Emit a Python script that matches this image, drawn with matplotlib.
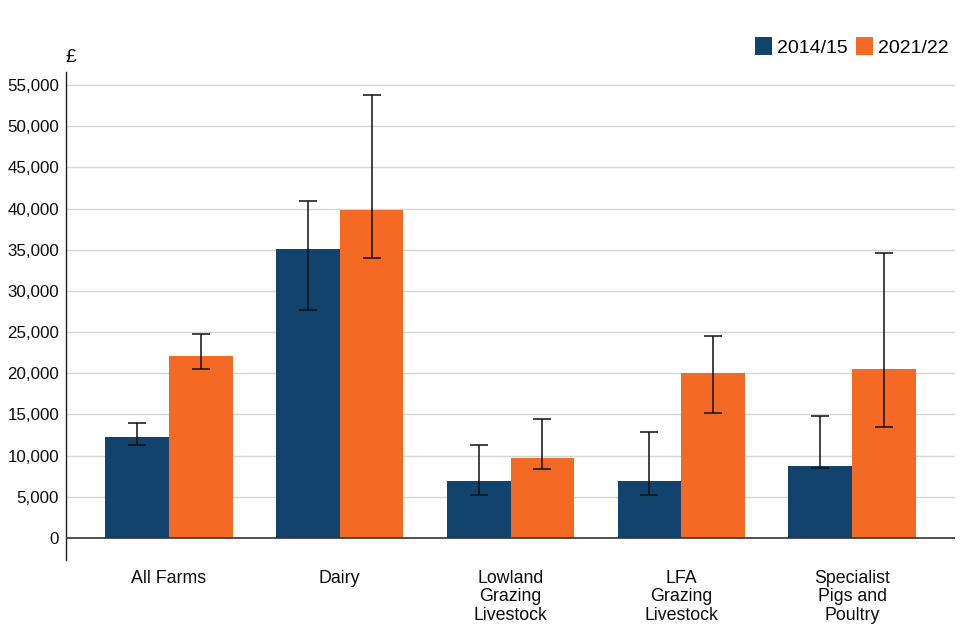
import matplotlib
matplotlib.use("Agg")
import matplotlib.pyplot as plt
import numpy as np
from matplotlib.patches import Patch

plt.rcParams['font.family'] = ['Liberation Sans', 'DejaVu Sans']

categories = ["All Farms", "Dairy", "Lowland\nGrazing\nLivestock", "LFA\nGrazing\nLivestock",
              "Specialist\nPigs and\nPoultry"]
series_names = ["2014/15", "2021/22"]
vals_2014 = [12300, 35100, 6950, 6950, 8770]
low_2014 = [11240, 27670, 5260, 5260, 8500]
high_2014 = [13990, 40900, 11320, 12900, 14760]
vals_2021 = [22120, 39840, 9750, 20060, 20550]
low_2021 = [20460, 33980, 8330, 15210, 13420]
high_2021 = [24710, 53800, 14480, 24470, 34620]
yticks = list(range(0, 55001, 5000))

colors = ["#12436D", "#F46A25"]

fig = plt.figure(figsize=(9.6, 6.4), dpi=100)
ax = fig.add_axes([66/960, 80/640, 889/960, 488/640])

x = np.arange(len(categories))
w = 0.374
err_kw = dict(ecolor="#111111", elinewidth=1.3, capsize=6.3, capthick=1.3, alpha=0.85)
for i, (vals, lo, hi) in enumerate([(vals_2014, low_2014, high_2014), (vals_2021, low_2021, high_2021)]):
    vals = np.array(vals); lo = np.array(lo); hi = np.array(hi)
    pos = x + (i - 0.5) * w
    ax.bar(pos, vals, width=w, color=colors[i], zorder=2)
    ax.errorbar(pos, vals, yerr=[vals - lo, hi - vals], fmt="none", zorder=3, **err_kw)

ax.set_xlim(-0.6, len(categories) - 0.4)
ax.set_ylim(-2670, 56580)
ax.set_yticks(yticks)
ax.set_yticklabels([f"{v:,}" for v in yticks], fontsize=12.2)
ax.set_xticks(x)
ax.set_xticklabels(categories, linespacing=1.13, fontsize=12.8)
ax.tick_params(axis="both", length=0, colors="#0b0c0c")
ax.tick_params(axis="y", pad=5)
ax.tick_params(axis="x", pad=7)
for t in ax.get_xticklabels():
    t.set_verticalalignment("top")

for v in yticks[1:]:
    ax.axhline(v, color="#d6d6d6", linewidth=1, zorder=1)
ax.axhline(0, color="#333333", linewidth=1.2, zorder=4)

for s in ["top", "right", "bottom"]:
    ax.spines[s].set_visible(False)
ax.spines["left"].set_color("#222222")
ax.spines["left"].set_linewidth(1)

fig.text(65/960, 1 - 57/640, "£", ha="left", va="center", fontsize=14, color="#0b0c0c")

handles = [Patch(facecolor=c, edgecolor="none") for c in colors]
fig.legend(handles, series_names, loc="upper right", bbox_to_anchor=(949/960, 1 - 37/640),
           ncol=2, frameon=False, fontsize=14, handlelength=0.85, handleheight=1.05,
           handletextpad=0.3, columnspacing=0.4, borderpad=0, borderaxespad=0)

fig.savefig("out.png", dpi=100)
